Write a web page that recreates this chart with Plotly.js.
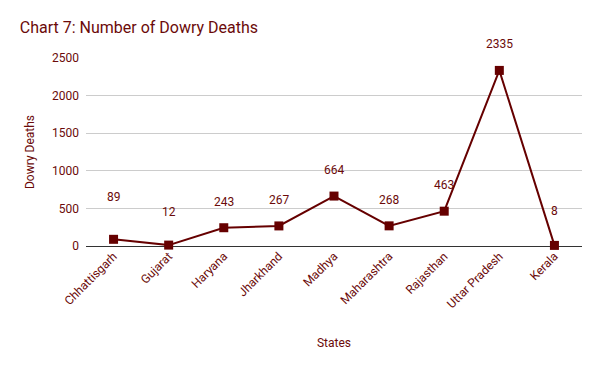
<!DOCTYPE html>
<html><head><meta charset="utf-8">
<script src="https://cdn.plot.ly/plotly-3.0.1.min.js"></script>
<style>html,body{margin:0;padding:0;background:#fff}#c{width:600px;height:371px}</style>
</head><body><div id="c"></div>
<script>
const states = ["Chhattisgarh","Gujarat","Haryana","Jharkhand","Madhya","Maharashtra","Rajasthan","Uttar Pradesh","Kerala"];
const deaths = [89,12,243,267,664,268,463,2335,8];
const labelShift = [42,33,26,26,26,26,26,26,34];
const yTicks = [0,500,1000,1500,2000,2500];

const col = "#660000";
const txt = "#6b0a0a";
const annotations = states.map((s,i)=>({
  x: s, y: deaths[i], text: String(deaths[i]), showarrow:false,
  yshift: labelShift[i], font:{family:"Roboto", size:12, color:txt}
}));

Plotly.newPlot("c",[{
  x: states, y: deaths, type:"scatter", mode:"lines+markers",
  line:{color:col, width:2}, marker:{symbol:"square", size:9, color:col},
  cliponaxis:false, hoverinfo:"none"
}],{
  width:600, height:371,
  margin:{l:86, r:18, t:58, b:125},
  paper_bgcolor:"#fff", plot_bgcolor:"#fff",
  title:{text:"Chart 7: Number of Dowry Deaths", x:0.033, xanchor:"left", y:0.925, yanchor:"middle",
    font:{family:"Roboto", size:16, color:txt}},
  xaxis:{type:"category", range:[-0.5,8.5], tickangle:-45, showgrid:false, zeroline:false,
    showline:false, ticks:"", tickfont:{family:"Roboto", size:12, color:txt},
    title:{text:"States", font:{family:"Roboto", size:12, color:txt}, standoff:28}},
  yaxis:{range:[0,2500], tickvals:yTicks, ticktext:yTicks.map(String), showgrid:true, gridcolor:"#cccccc",
    zeroline:true, zerolinecolor:"#333333", zerolinewidth:1, showline:false, ticks:"",
    tickfont:{family:"Roboto", size:12, color:txt}, ticklabelstandoff:6,
    title:{text:"Dowry Deaths", font:{family:"Roboto", size:12, color:txt}, standoff:14}},
  annotations: annotations,
  showlegend:false
},{displayModeBar:false, staticPlot:true});
</script></body></html>
